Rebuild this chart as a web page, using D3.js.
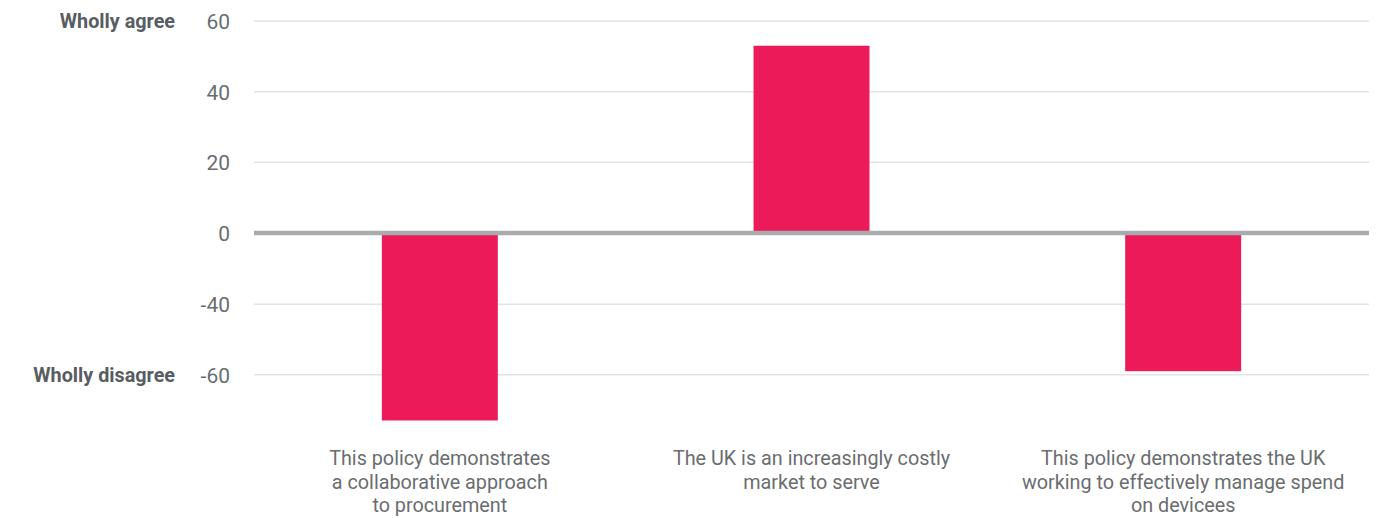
<!DOCTYPE html>
<html>
<head>
<meta charset="utf-8">
<script src="https://cdn.jsdelivr.net/npm/d3@7"></script>
<style>
  html, body { margin: 0; padding: 0; background: #fff; }
  svg { display: block; font-family: Roboto, "Noto Sans", sans-serif; }
</style>
</head>
<body>
<svg id="chart" width="1384" height="518"></svg>
<script>
const categories = [
  ["This policy demonstrates", "a collaborative approach", "to procurement"],
  ["The UK is an increasingly costly", "market to serve"],
  ["This policy demonstrates the UK", "working to effectively manage spend", "on devicees"]
];
const values = [-73, 53, -59];
const tickValues = [60, 40, 20, 0, -40, -60];
const sideLabels = [{ value: 60, text: "Wholly agree" }, { value: -60, text: "Wholly disagree" }];

const svg = d3.select("#chart");
const left = 254, right = 1369;

const x = d3.scaleBand()
  .domain(d3.range(categories.length))
  .range([left, right])
  .paddingInner(0.688)
  .paddingOuter(0.344);

// axis as drawn in the source: ticks evenly spaced, scale piecewise below zero
const y = d3.scaleLinear()
  .domain([-60, -40, 0, 60])
  .range([374.7, 304.3, 233, 21]);

// gridlines
svg.append("g").selectAll("line")
  .data(tickValues.filter(d => d !== 0))
  .join("line")
  .attr("x1", left).attr("x2", right)
  .attr("y1", d => y(d)).attr("y2", d => y(d))
  .attr("stroke", "#e1e4e4")
  .attr("stroke-width", 1.5);

// bars
svg.append("g").selectAll("rect")
  .data(values)
  .join("rect")
  .attr("x", (d, i) => x(i))
  .attr("width", x.bandwidth())
  .attr("y", d => Math.min(y(d), y(0)))
  .attr("height", d => Math.abs(y(d) - y(0)))
  .attr("fill", "#ed1a5a");

// zero line
svg.append("line")
  .attr("x1", left).attr("x2", right)
  .attr("y1", y(0)).attr("y2", y(0))
  .attr("stroke", "#a9aaac")
  .attr("stroke-width", 4.5);

// y axis tick labels
const yAxis = d3.axisLeft(y).tickValues(tickValues).tickSize(0).tickPadding(0).tickFormat(d => String(d));
const ga = svg.append("g").attr("transform", `translate(230,0)`).call(yAxis);
ga.select(".domain").remove();
ga.selectAll("text")
  .attr("font-family", "Roboto, sans-serif")
  .attr("font-size", 21)
  .attr("fill", "#6a6d70")
  .attr("dy", "0.35em");

// side labels
svg.append("g").selectAll("text")
  .data(sideLabels)
  .join("text")
  .attr("x", 175)
  .attr("y", d => y(d.value))
  .attr("dy", "0.35em")
  .attr("text-anchor", "end")
  .attr("font-size", 19.8)
  .attr("font-weight", "bold")
  .attr("fill", "#585d63")
  .text(d => d.text);

// category labels
const cg = svg.append("g").selectAll("text")
  .data(categories)
  .join("text")
  .attr("x", (d, i) => x(i) + x.bandwidth() / 2)
  .attr("y", 465)
  .attr("text-anchor", "middle")
  .attr("font-size", 19.8)
  .attr("fill", "#6a6d70");
cg.selectAll("tspan")
  .data(d => d)
  .join("tspan")
  .attr("x", function () { return d3.select(this.parentNode).attr("x"); })
  .attr("dy", (d, i) => i === 0 ? 0 : 23.5)
  .text(d => d);
</script>
</body>
</html>
